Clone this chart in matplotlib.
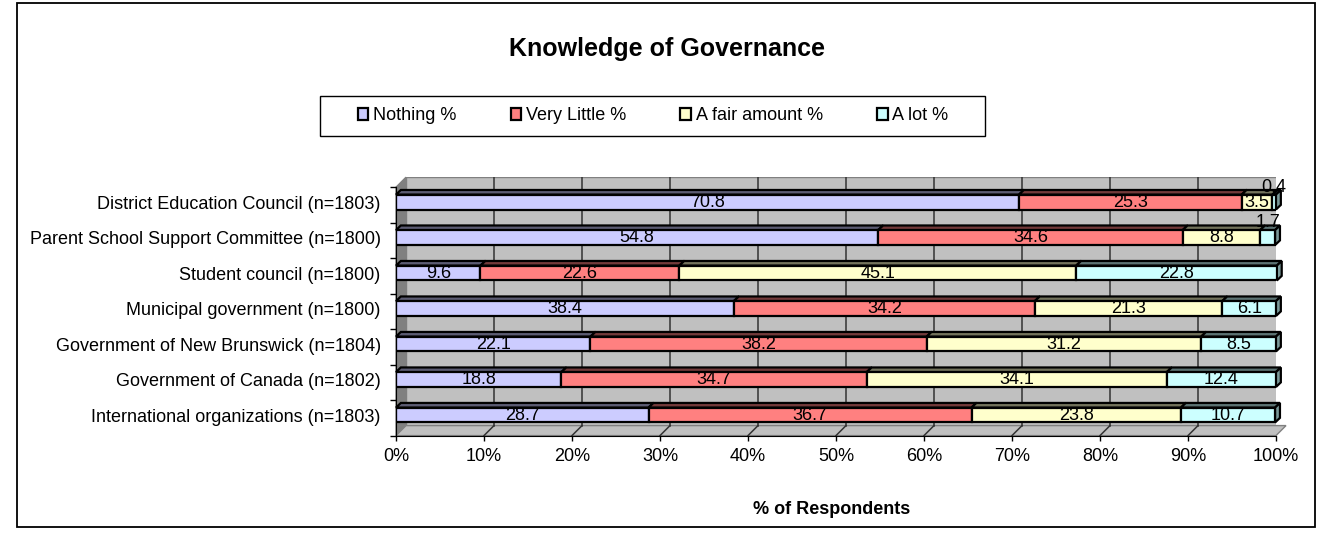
import numpy as np
import matplotlib
matplotlib.use('Agg')
import matplotlib.pyplot as plt
from matplotlib.patches import Polygon, Rectangle
from matplotlib.colors import to_rgb

plt.rcParams['font.family'] = ['Liberation Sans', 'DejaVu Sans']

# Данные (сверху вниз на графике)
categories = ['District Education Council (n=1803)',
              'Parent School Support Committee (n=1800)',
              'Student council (n=1800)',
              'Municipal government (n=1800)',
              'Government of New Brunswick (n=1804)',
              'Government of Canada (n=1802)',
              'International organizations (n=1803)']
nothing = [70.8, 54.8, 9.6, 38.4, 22.1, 18.8, 28.7]
very_little = [25.3, 34.6, 22.6, 34.2, 38.2, 34.7, 36.7]
fair_amount = [3.5, 8.8, 45.1, 21.3, 31.2, 34.1, 23.8]
a_lot = [0.4, 1.7, 22.8, 6.1, 8.5, 12.4, 10.7]
series_names = ['Nothing %', 'Very Little %', 'A fair amount %', 'A lot %']
colors = ['#CCCCFF', '#FF8080', '#FFFFCC', '#CCFFFF']

W, H = 1338, 537
fig = plt.figure(figsize=(W / 100, H / 100), dpi=100)

# положение осей: 0% -> 396 px, 100% -> 1276 px
y0, y1 = -0.58, 6.70
ax = fig.add_axes([396 / W, 1 - 435.6 / H, 880 / W, 258.4 / H])
ax.set_xlim(0, 100)
ax.set_ylim(y0, y1)

# глубина "3D" стенок и столбцов
dx, dy = 1.136, 0.282
bdx, bdy = 0.55, 0.13
bh = 0.42

# стенки и пол
ax.add_patch(Rectangle((dx, y0 + dy), 100, y1 - y0 - dy, facecolor='#C0C0C0',
                       edgecolor='#808080', lw=1, zorder=0))
ax.add_patch(Polygon([(0, y0), (dx, y0 + dy), (dx, y1), (0, y1 - dy)],
                     closed=True, facecolor='#808080', edgecolor='#808080',
                     lw=1, zorder=0, clip_on=False))
ax.add_patch(Polygon([(0, y0), (100, y0), (100 + dx, y0 + dy), (dx, y0 + dy)],
                     closed=True, facecolor='#C0C0C0', edgecolor='#808080',
                     lw=1, zorder=0, clip_on=False))
for g in range(10, 100, 10):
    ax.plot([g + dx, g + dx], [y0 + dy, y1], color='#333333', lw=1.1, zorder=1)
    ax.plot([g, g + dx], [y0, y0 + dy], color='#333333', lw=1.1, zorder=1)

rows = np.arange(len(categories))[::-1]
data = [nothing, very_little, fair_amount, a_lot]
lefts = np.zeros(len(categories))

for s, vals in enumerate(data):
    vals = np.array(vals)
    ax.barh(rows, vals, left=lefts, height=bh, color=colors[s],
            edgecolor='black', lw=1.6, label=series_names[s], zorder=4)
    top_c = tuple(c * 0.45 for c in to_rgb(colors[s]))
    side_c = tuple(c * 0.6 for c in to_rgb(colors[s]))
    for r, l, w in zip(rows, lefts, vals):
        yt = r + bh / 2
        ax.add_patch(Polygon([(l, yt), (l + w, yt), (l + w + bdx, yt + bdy),
                              (l + bdx, yt + bdy)], closed=True,
                             facecolor=top_c, edgecolor='black', lw=1.6,
                             zorder=3, clip_on=False))
        if s == len(data) - 1:
            yb = r - bh / 2
            ax.add_patch(Polygon([(l + w, yb), (l + w + bdx, yb + bdy),
                                  (l + w + bdx, yt + bdy), (l + w, yt)],
                                 closed=True, facecolor=side_c,
                                 edgecolor='black', lw=1.6, zorder=3,
                                 clip_on=False))
        # подписи значений
        ty = r + 0.42 if w < 2 else r
        ax.text(l + w / 2, ty, f'{w:.1f}', ha='center', va='center',
                fontsize=13, zorder=6, clip_on=False)
    lefts = lefts + vals

# оси
for sp in ['top', 'right']:
    ax.spines[sp].set_visible(False)
ax.spines['left'].set_bounds(y0, y1 - dy)
ax.spines['left'].set_zorder(5)
ax.spines['bottom'].set_zorder(5)
ax.set_xticks(range(0, 101, 10))
ax.set_xticklabels([f'{t}%' for t in range(0, 101, 10)], fontsize=13)
ax.tick_params(axis='x', length=3.6, width=1, pad=5)
ax.set_yticks(np.arange(0, len(categories) + 1) + y0)
ax.set_yticklabels([])
ax.set_yticks(rows, minor=True)
ax.set_yticklabels(categories, minor=True, fontsize=13)
ax.tick_params(axis='y', which='major', length=4, width=1)
ax.tick_params(axis='y', which='minor', length=0, pad=11)

# заголовок и подпись оси
fig.text(667 / W, 1 - 49 / H, 'Knowledge of Governance', ha='center',
         va='center', fontsize=18, fontweight='bold')
fig.text(832 / W, 1 - 510 / H, '% of Respondents', ha='center',
         va='center', fontsize=13, fontweight='bold')

# легенда
fig.legend(loc='center', bbox_to_anchor=(653 / W, 1 - 116 / H), ncol=4,
           frameon=False, fontsize=13, columnspacing=3.0, handlelength=0.6,
           handleheight=0.6, handletextpad=0.25)
fig.add_artist(Rectangle((320 / W, 1 - 136 / H), 665 / W, 40 / H,
                         transform=fig.transFigure, fill=False,
                         edgecolor='black', lw=1))

# рамка вокруг всей диаграммы
fig.add_artist(Rectangle((17 / W, 1 - 527 / H), 1298 / W, 524 / H,
                         transform=fig.transFigure, fill=False,
                         edgecolor='black', lw=1.3))

fig.savefig('out.png', dpi=100)
